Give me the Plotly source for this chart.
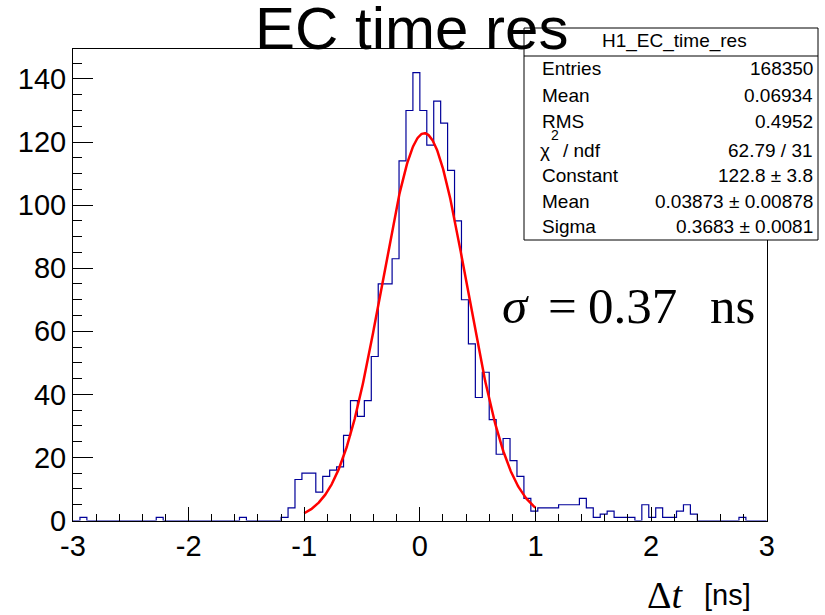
import numpy as np
import plotly.graph_objects as go

# ---- data -------------------------------------------------------------
x_min, x_max, n_bins = -3.0, 3.0, 100
counts = [0, 1, 0, 0, 0, 0, 0, 0, 0, 0,
          0, 0, 1, 0, 0, 0, 0, 0, 0, 0,
          0, 0, 0, 0, 1, 0, 0, 0, 0, 0,
          1, 4, 13, 15, 15, 9, 14, 16, 17, 27,
          38, 33, 38, 52, 75, 75, 83, 114, 130, 142,
          130, 119, 133, 126, 111, 95, 70, 56, 39, 47,
          32, 21, 26, 19, 14, 7, 3, 4, 4, 4,
          5, 5, 5, 7, 4, 1, 2, 3, 1, 1,
          1, 0, 5, 1, 4, 1, 1, 3, 5, 2,
          0, 0, 0, 0, 0, 0, 1, 0, 0, 0]

fit_constant, fit_mean, fit_sigma = 122.8, 0.03873, 0.3683
fit_range = (-1.0, 1.0)

x_ticks = [-3, -2, -1, 0, 1, 2, 3]
y_ticks = [0, 20, 40, 60, 80, 100, 120, 140]

stats_title = "H1_EC_time_res"
stats_rows = [("Entries", "168350"), ("Mean", "0.06934"), ("RMS", "0.4952"),
              (None, "62.79 / 31"), ("Constant", "122.8 \u00b1 3.8"),
              ("Mean", "0.03873 \u00b1 0.00878"), ("Sigma", "0.3683 \u00b1 0.0081")]

# ---- geometry helpers (pixels -> paper) --------------------------------
W, H = 825, 615
def px(x): return x / W
def py(y): return 1 - y / H

edges = np.linspace(x_min, x_max, n_bins + 1)
step_y = counts + [counts[-1]]

xf = np.linspace(fit_range[0], fit_range[1], 400)
yf = fit_constant * np.exp(-0.5 * ((xf - fit_mean) / fit_sigma) ** 2)

fig = go.Figure()
fig.add_trace(go.Scatter(x=edges, y=step_y, mode="lines", line_shape="hv",
                         line=dict(color="#000099", width=1.2), showlegend=False,
                         hoverinfo="skip"))
fig.add_trace(go.Scatter(x=xf, y=yf, mode="lines",
                         line=dict(color="#ff0000", width=2.5), showlegend=False,
                         hoverinfo="skip"))

sans = "Liberation Sans, Arial, sans-serif"
serif = "Liberation Serif, Times New Roman, serif"

fig.update_layout(
    width=W, height=H, margin=dict(l=0, r=0, t=0, b=0, autoexpand=False),
    paper_bgcolor="white", plot_bgcolor="white",
    showlegend=False,
    xaxis=dict(domain=[px(73), px(766.7)], range=[x_min, x_max], automargin=False,
               tickvals=x_ticks, ticktext=[str(v) for v in x_ticks],
               ticks="inside", ticklen=14, tickwidth=1, tickcolor="black",
               minor=dict(ticks="inside", ticklen=7, dtick=0.2, tickcolor="black", tickwidth=1),
               showline=True, linecolor="black", linewidth=1, mirror=True,
               showgrid=False, zeroline=False,
               tickfont=dict(family=sans, size=29, color="black")),
    yaxis=dict(domain=[py(520.5), py(49)], range=[0, 149.5], automargin=False,
               tickvals=y_ticks, ticktext=[str(v) for v in y_ticks],
               ticks="inside", ticklen=20, tickwidth=1, tickcolor="black",
               minor=dict(ticks="inside", ticklen=9, dtick=5, tickcolor="black", tickwidth=1),
               showline=True, linecolor="black", linewidth=1, mirror=True,
               showgrid=False, zeroline=False,
               tickfont=dict(family=sans, size=29, color="black")),
)

# stats box
fig.add_shape(type="rect", xref="paper", yref="paper",
              x0=px(524), x1=px(818), y0=py(240), y1=py(28),
              fillcolor="white", line=dict(color="black", width=1), layer="above")
fig.add_shape(type="line", xref="paper", yref="paper",
              x0=px(524), x1=px(818), y0=py(56), y1=py(56),
              line=dict(color="black", width=1), layer="above")

ann = []
def text(s, x, y, size, family=sans, xanchor="center"):
    ann.append(dict(text=s, x=px(x), y=py(y), xref="paper", yref="paper",
                    xanchor=xanchor, yanchor="middle", showarrow=False,
                    font=dict(family=family, size=size, color="black")))

# main title
text("EC time res", 411.5, 49 - 0.35 * 60, 60)

# stats content
text(stats_title, 674, 48 - 0.35 * 19, 19)
baselines = [75, 101.7, 128, 157, 181.7, 208, 233]
for (lab, val), b in zip(stats_rows, baselines):
    c = b - 0.35 * 19
    if lab is not None:
        text(lab, 540, c, 19, xanchor="left")
    text(val, 815, c, 19, xanchor="right")
# chi2 / ndf label
text("\u03c7", 538, 157 - 0.35 * 19, 19, xanchor="left")
text("2", 549, 140 - 0.35 * 14, 14, xanchor="left")
text("/ ndf", 561, 157 - 0.35 * 19, 19, xanchor="left")

# sigma annotation
sb = 323
sc = sb - 0.3375 * 51
text("<i>\u03c3</i>", 515.5, sc, 51, family=serif)
text("=", 562.5, sc, 51, family=serif)
text("0.37", 632.5, sc, 51, family=serif)
text("ns", 732, sc, 51, family=serif)

# x axis title
text("\u0394<i>t</i>", 665, 608 - 0.3375 * 38, 38, family=serif)
text("[ns]", 727.5, 605 - 0.35 * 29, 29)

fig.update_layout(annotations=ann)
fig.write_html("out.html")
